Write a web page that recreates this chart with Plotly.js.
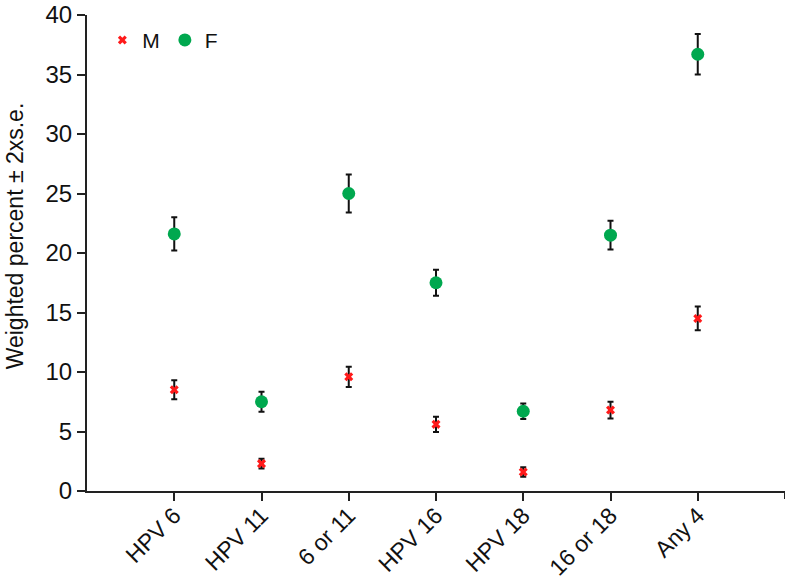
<!DOCTYPE html>
<html>
<head>
<meta charset="utf-8">
<script src="https://cdn.plot.ly/plotly-3.0.1.min.js"></script>
<style>html,body{margin:0;padding:0;background:#fff;}#chart{width:785px;height:583px;}</style>
</head>
<body>
<div id="chart"></div>
<script>
const categories = ["HPV 6", "HPV 11", "6 or 11", "HPV 16", "HPV 18", "16 or 18", "Any 4"];
const maleValues = [8.5, 2.3, 9.6, 5.6, 1.6, 6.8, 14.5];
const maleErr = [0.8, 0.4, 0.85, 0.65, 0.4, 0.7, 1.0];
const femaleValues = [21.6, 7.5, 25.0, 17.5, 6.7, 21.5, 36.7];
const femaleErr = [1.4, 0.85, 1.6, 1.1, 0.65, 1.2, 1.7];
const yTicks = [0, 5, 10, 15, 20, 25, 30, 35, 40];
const yTitle = "Weighted percent \u00b1 2xs.e.";

const font = "Liberation Sans, Arial, Helvetica, sans-serif";

const traces = [
  {
    type: "scatter", mode: "markers", name: "M",
    x: categories, y: maleValues,
    marker: {symbol: "x", size: 8, color: "#ff1a1a", line: {width: 0}},
    error_y: {type: "data", array: maleErr, visible: true, color: "#111", thickness: 2, width: 3}
  },
  {
    type: "scatter", mode: "markers", name: "F",
    x: categories, y: femaleValues,
    marker: {symbol: "circle", size: 13, color: "#00a84f", line: {width: 0}},
    error_y: {type: "data", array: femaleErr, visible: true, color: "#111", thickness: 2, width: 3}
  }
];

const layout = {
  width: 785, height: 583,
  margin: {l: 87, r: 0, t: 15, b: 92},
  paper_bgcolor: "#fff", plot_bgcolor: "#fff",
  font: {family: font, color: "#111", size: 21},
  showlegend: true,
  legend: {orientation: "h", x: 0.022, y: 0.99, xanchor: "left", yanchor: "top",
           font: {size: 21, family: font}, bgcolor: "rgba(0,0,0,0)", itemwidth: 30, tracegroupgap: 0},
  xaxis: {
    type: "category", categoryorder: "array", categoryarray: categories,
    range: [-1, 7], showgrid: false, zeroline: false,
    showline: true, linecolor: "#222", linewidth: 2,
    ticks: "outside", ticklen: 8, tickwidth: 2, tickcolor: "#222",
    tickangle: -45, tickfont: {size: 23, family: font}, ticklabelstandoff: -8
  },
  yaxis: {
    range: [0, 40], tickvals: yTicks, showgrid: false, zeroline: false,
    showline: true, linecolor: "#222", linewidth: 2,
    ticks: "outside", ticklen: 8, tickwidth: 2, tickcolor: "#222",
    tickfont: {size: 24, family: font}
  },
  annotations: [
    {text: yTitle, xref: "paper", yref: "paper", x: 0, y: 0.535, xanchor: "center", yanchor: "middle",
     xshift: -72, textangle: -90, showarrow: false, font: {size: 23, family: font, color: "#111"}}
  ],
  shapes: [
    {type: "line", xref: "x", yref: "paper", ysizemode: "pixel", yanchor: 0,
     x0: 7, x1: 7, y0: 0, y1: -8, line: {color: "#222", width: 2}}
  ]
};

Plotly.newPlot("chart", traces, layout, {displayModeBar: false, staticPlot: true});
</script>
</body>
</html>
